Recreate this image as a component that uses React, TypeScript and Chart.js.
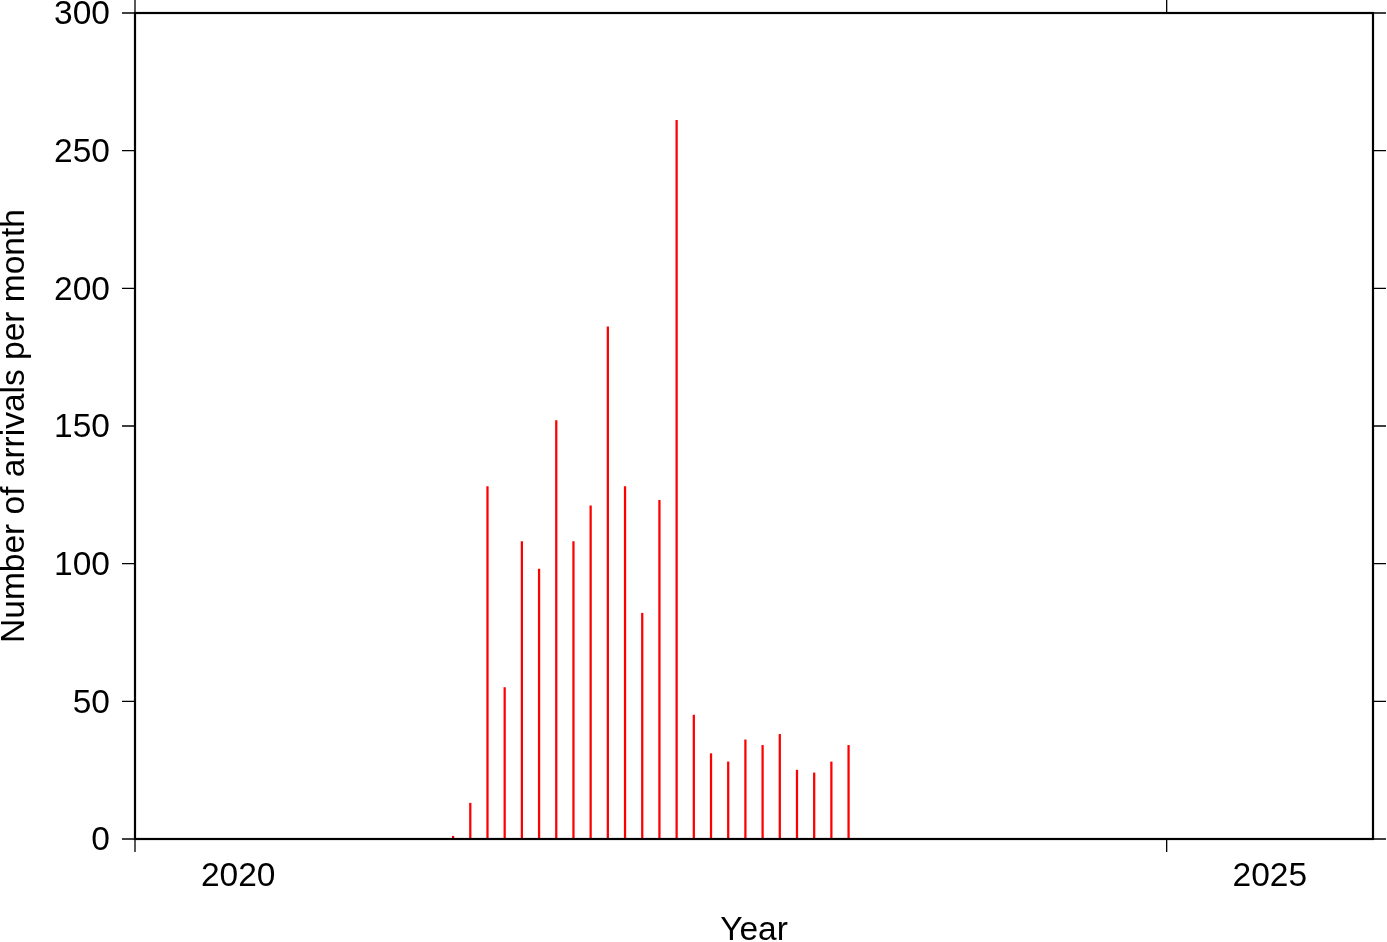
import React, { useEffect, useRef } from "react";
import { Chart, registerables } from "chart.js";

Chart.register(...registerables);

// ---- data ----
const months: string[] = [
  "2021-07", "2021-08", "2021-09", "2021-10", "2021-11", "2021-12",
  "2022-01", "2022-02", "2022-03", "2022-04", "2022-05", "2022-06",
  "2022-07", "2022-08", "2022-09", "2022-10", "2022-11", "2022-12",
  "2023-01", "2023-02", "2023-03", "2023-04", "2023-05", "2023-06",
];
const arrivals: number[] = [
  1, 13, 128, 55, 108, 98,
  152, 108, 121, 186, 128, 82,
  123, 261, 45, 31, 28, 36,
  34, 38, 25, 24, 28, 34,
];
const yTickValues: number[] = [0, 50, 100, 150, 200, 250, 300];
const xTickYears: number[] = [2020, 2025];
const xLabelYears: string[] = ["2020", "2025"];
const xRange: number[] = [2020, 2026];
const yRange: number[] = [0, 300];
const xTitle = "Year";
const yTitle = "Number of arrivals per month";

const FONT = '33.5px "Liberation Sans", Arial, Helvetica, sans-serif';

function monthCenter(m: string): number {
  const [y, mo] = m.split("-").map(Number);
  return y + (mo - 0.5) / 12;
}

const gmtFrame = {
  id: "gmtFrame",
  afterDraw(chart: any) {
    const { ctx, chartArea } = chart;
    const xs = chart.scales.x;
    const ys = chart.scales.y;
    const { left, right, top, bottom } = chartArea;
    ctx.save();
    ctx.strokeStyle = "#000";
    ctx.fillStyle = "#000";
    // frame
    ctx.lineWidth = 2.2;
    ctx.strokeRect(left, top, right - left, bottom - top);
    // y ticks
    ctx.lineWidth = 1.3;
    ctx.font = FONT;
    ctx.textAlign = "right";
    ctx.textBaseline = "middle";
    yTickValues.forEach((v) => {
      const py = ys.getPixelForValue(v);
      ctx.beginPath();
      ctx.moveTo(left - 13, py);
      ctx.lineTo(left, py);
      ctx.moveTo(right, py);
      ctx.lineTo(right + 13, py);
      ctx.stroke();
      ctx.fillText(String(v), left - 25, py + 2);
    });
    // x ticks
    xTickYears.forEach((yr) => {
      const px = xs.getPixelForValue(yr);
      ctx.beginPath();
      ctx.moveTo(px, bottom);
      ctx.lineTo(px, bottom + 13);
      ctx.moveTo(px, top);
      ctx.lineTo(px, top - 13);
      ctx.stroke();
    });
    // x labels (interval annotation, centred in the year)
    ctx.textAlign = "center";
    xLabelYears.forEach((lab) => {
      const px = xs.getPixelForValue(Number(lab) + 0.5);
      ctx.fillText(lab, px, bottom + 38);
    });
    // titles
    ctx.fillText(xTitle, (left + right) / 2, bottom + 92);
    ctx.translate(15, (top + bottom) / 2);
    ctx.rotate(-Math.PI / 2);
    ctx.fillText(yTitle, 0, 0);
    ctx.restore();
  },
};

export default function App() {
  const ref = useRef<HTMLCanvasElement>(null);
  useEffect(() => {
    if (!ref.current) return;
    const chart = new Chart(ref.current, {
      type: "bar",
      data: {
        datasets: [
          {
            data: months.map((m, i) => ({ x: monthCenter(m), y: arrivals[i] })),
            backgroundColor: "#ff0000",
            borderWidth: 0,
            barThickness: 1.6,
          } as any,
        ],
      },
      options: {
        responsive: false,
        maintainAspectRatio: false,
        animation: false,
        layout: { padding: { left: 135, right: 14, top: 13, bottom: 103 } },
        plugins: { legend: { display: false }, tooltip: { enabled: false } },
        scales: {
          x: { type: "linear", min: xRange[0], max: xRange[1], offset: false, display: false },
          y: { type: "linear", min: yRange[0], max: yRange[1], display: false },
        },
      },
      plugins: [gmtFrame],
    });
    return () => chart.destroy();
  }, []);
  return (
    <div style={{ position: "absolute", left: 0, top: 0, width: 1387, height: 942, background: "#fff" }}>
      <canvas ref={ref} width={1387} height={942} style={{ display: "block" }} />
    </div>
  );
}
